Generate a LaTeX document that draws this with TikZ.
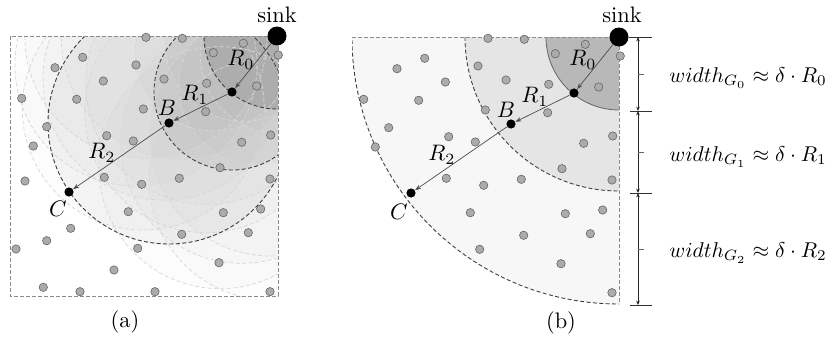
\documentclass[tikz,border=0pt]{standalone}
\usetikzlibrary{arrows.meta}
\begin{document}
\begin{tikzpicture}[x=0.5pt,y=-0.5pt,
  dot/.style={circle,fill=black!33,draw=black!60,line width=0.3pt,inner sep=0pt,minimum size=4.2pt},
  hop/.style={circle,fill=black,inner sep=0pt,minimum size=4.6pt},
  sinknode/.style={circle,fill=black,inner sep=0pt,minimum size=9.5pt},
  ray/.style={draw=black!70,line width=0.35pt,-{Stealth[length=3pt,width=2.2pt]}},
  bigarc/.style={draw=black!75,line width=0.45pt,dash pattern=on 2pt off 1.2pt},
  lightarc/.style={draw=black!16,line width=0.35pt,dash pattern=on 2pt off 1.2pt},
  frame/.style={draw=black!45,line width=0.45pt,dash pattern=on 2pt off 1pt},
  dim/.style={draw=black!85,line width=0.4pt,{Stealth[length=2.2pt,width=1.8pt]}-{Stealth[length=2.2pt,width=1.8pt]}},
  tick/.style={draw=black!80,line width=0.4pt},
  lbl/.style={inner sep=0pt,scale=1.12},
  wlbl/.style={inner sep=0pt,scale=1.07,anchor=west}
]
\useasboundingbox (0,0) rectangle (832,337);
\def\dotlist{146/37.3,182.3/38.3,213.3/52.7,243.3/43.3,278.3/55,82.7/57.3,55/67.7,136/65,103.3/81,164/79,206.7/83.3,256.7/86,21.7/98.3,76.7/99.3,143.3/109,205.7/111.7,46.7/126.7,106.7/135.7,133.3/141,33.3/146,241.7/142.3,270.7/135,220/167.7,25/181,104.3/177.3,141.7/184.3,179.3/178.3,270/179,128.3/211.7,223.3/212.7,260.7/209,70.7/228.3,46.7/240.7,181.7/234.3,248.3/232.7,16/249,137.7/248.3,219/262.7,114/270,43.3/287.3,80/291.7,155/291.7,270/291.7}
\def\gzero{213.3/52.7,243.3/43.3,278.3/55,256.7/86,232/92}
\def\gone{146/37.3,182.3/38.3,164/79,206.7/83.3,136/65,205.7/111.7,143.3/109,241.7/142.3,270.7/135,220/167.7,270/179,169/123}

% ---------------- panel (a) ----------------
\coordinate (sinkA) at (277,36);
\coordinate (hopA1) at (232,92);
\coordinate (hopB1) at (169,123);
\coordinate (hopC1) at (69,192);
\begin{scope}
  \clip (10,36) rectangle (278,296);
  \foreach \x/\y in \gone {\fill[black,opacity=0.012] (\x,\y) circle[radius=121];}
  \foreach \x/\y in \gzero {\fill[black,opacity=0.015] (\x,\y) circle[radius=78];}
  \fill[black,opacity=0.025] (hopB1) circle[radius=121];
  \fill[black,opacity=0.04] (hopA1) circle[radius=78];
  \fill[black!32] (sinkA) circle[radius=73];
  \foreach \x/\y in \gone {\draw[lightarc] (\x,\y) circle[radius=121];}
  \foreach \x/\y in \gzero {\draw[lightarc] (\x,\y) circle[radius=78];}
  \draw[bigarc] (sinkA) circle[radius=73];
  \draw[bigarc] (hopA1) circle[radius=78];
  \draw[bigarc] (hopB1) circle[radius=121];
\end{scope}
\draw[frame] (10,36) rectangle (278,296);
\foreach \x/\y [count=\i] in \dotlist {\node[dot] (a\i) at (\x,\y) {};}
\node[sinknode] (sa) at (sinkA) {};
\node[hop] (Aa) at (hopA1) {};
\node[hop] (Ba) at (hopB1) {};
\node[hop] (Ca) at (hopC1) {};
\draw[ray] (sa) -- (Aa);
\draw[ray] (Aa) -- (Ba);
\draw[ray] (Ba) -- (Ca);
\node[lbl] (sinklblA) at (277,15) {sink};
\node[lbl] (r0a) at (241,60) {$R_0$};
\node[lbl] (r1a) at (195,95) {$R_1$};
\node[lbl] (bla) at (167,108) {$B$};
\node[lbl] (r2a) at (102,153) {$R_2$};
\node[lbl] (cla) at (58,209) {$C$};
\node[lbl] (capa) at (125,322) {(a)};

% ---------------- panel (b) ----------------
\begin{scope}[shift={(342,1)}]
  \coordinate (sinkB) at (277,36);
  \coordinate (hopA2) at (232,92);
  \coordinate (hopB2) at (169,123);
  \coordinate (hopC2) at (69,192);
  \begin{scope}
    \clip (10,36) rectangle (277,310);
    \fill[black!3] (sinkB) circle[radius=267];
    \fill[black!10] (sinkB) circle[radius=154];
    \fill[black!28] (sinkB) circle[radius=73];
    \draw[bigarc] (sinkB) circle[radius=267];
    \draw[bigarc] (sinkB) circle[radius=154];
    \draw[draw=black!60,line width=0.4pt] (sinkB) circle[radius=73];
  \end{scope}
  \draw[frame] (10,36) -- (sinkB) -- (277,303);
  \foreach \x/\y [count=\i] in \dotlist {
    \pgfmathtruncatemacro{\inside}{veclen(\x-277,\y-36)<270 ? 1 : 0}
    \ifnum\inside=1 \node[dot] (b\i) at (\x,\y) {};\fi
  }
  \node[sinknode] (sb) at (sinkB) {};
  \node[hop] (Ab) at (hopA2) {};
  \node[hop] (Bb) at (hopB2) {};
  \node[hop] (Cb) at (hopC2) {};
  \draw[ray] (sb) -- (Ab);
  \draw[ray] (Ab) -- (Bb);
  \draw[ray] (Bb) -- (Cb);
  \node[lbl] (sinklblB) at (280,14) {sink};
  \node[lbl] (r0b) at (241,59) {$R_0$};
  \node[lbl] (r1b) at (193,96) {$R_1$};
  \node[lbl] (blb) at (164,109) {$B$};
  \node[lbl] (r2b) at (100,154) {$R_2$};
  \node[lbl] (clb) at (57,211) {$C$};
\end{scope}
\node[lbl] (capb) at (561,323) {(b)};

% ---------------- scale ----------------
\coordinate (t0) at (638,37);
\coordinate (t1) at (638,111);
\coordinate (t2) at (638,193);
\coordinate (t3) at (638,305);
\coordinate (topend) at (652,37);
\draw[tick] (sb) -- (topend);
\draw[tick] (630,111) -- (652,111);
\draw[tick] (630,193) -- (652,193);
\draw[tick] (630,305) -- (652,305);
\draw[dim] (t0) -- (t1);
\draw[dim] (t1) -- (t2);
\draw[dim] (t2) -- (t3);
\draw[tick,draw=black!60] (638,74) -- (644,74);
\draw[tick,draw=black!60] (638,152) -- (644,152);
\draw[tick,draw=black!60] (638,249) -- (644,249);
\node[wlbl] (w0) at (669,78) {$width_{G_0}\approx\delta\cdot R_0$};
\node[wlbl] (w1) at (669,157) {$width_{G_1}\approx\delta\cdot R_1$};
\node[wlbl] (w2) at (669,253) {$width_{G_2}\approx\delta\cdot R_2$};
\end{tikzpicture}
\end{document}
